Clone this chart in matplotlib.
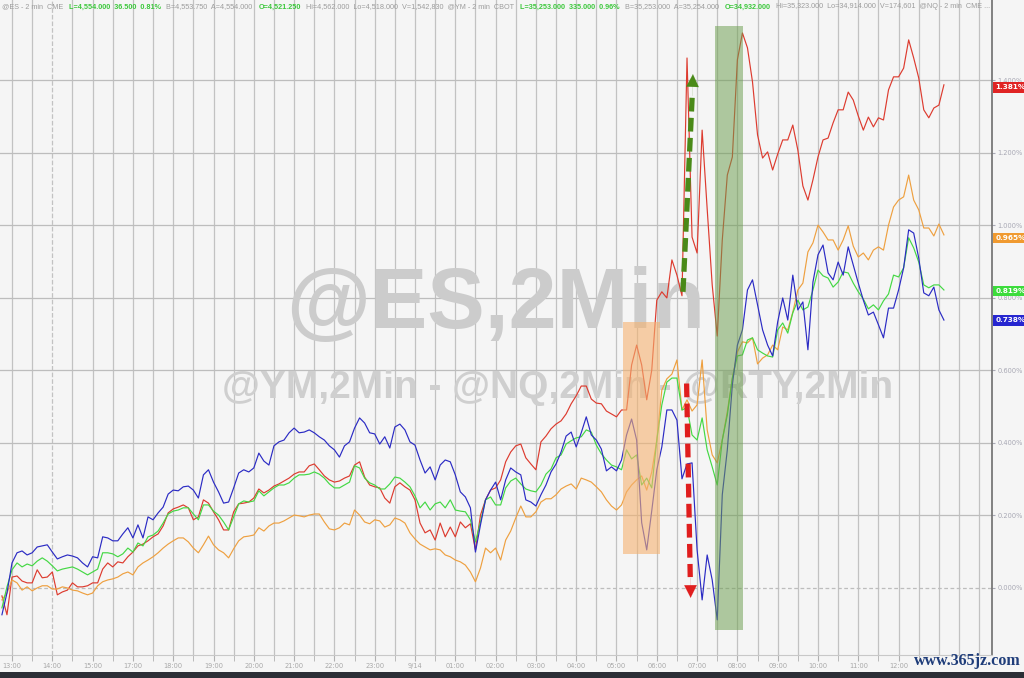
import numpy as np
import matplotlib.pyplot as plt
from matplotlib.patches import Rectangle

# session clock: hours after 13:00, one sample every 7.5 min
t = np.arange(-2, 186) / 8.0

hour_labels = ["13:00", "14:00", "15:00", "17:00", "18:00", "19:00", "20:00", "21:00",
               "22:00", "23:00", "9/14", "01:00", "02:00", "03:00", "04:00", "05:00",
               "06:00", "07:00", "08:00", "09:00", "10:00", "11:00", "12:00"]

rty = [-0.022, -0.074, 0.030, 0.033, 0.019, 0.014, 0.014, 0.050, 0.028, 0.030,
       0.044, -0.019, -0.011, -0.006, 0.014, 0.003, 0.003, 0.006, 0.014, 0.014,
       0.052, 0.069, 0.058, 0.072, 0.069, 0.086, 0.099, 0.116, 0.121, 0.130,
       0.141, 0.149, 0.171, 0.207, 0.218, 0.223, 0.229, 0.221, 0.188, 0.196,
       0.243, 0.234, 0.210, 0.188, 0.160, 0.160, 0.210, 0.232, 0.234, 0.237,
       0.248, 0.273, 0.262, 0.270, 0.281, 0.287, 0.295, 0.303, 0.314, 0.320,
       0.320, 0.337, 0.342, 0.326, 0.309, 0.298, 0.292, 0.295, 0.303, 0.309,
       0.339, 0.348, 0.306, 0.284, 0.279, 0.276, 0.248, 0.234, 0.279, 0.290,
       0.279, 0.270, 0.243, 0.179, 0.152, 0.160, 0.132, 0.179, 0.141, 0.168,
       0.141, 0.182, 0.166, 0.177, 0.105, 0.201, 0.243, 0.270, 0.276, 0.298,
       0.348, 0.375, 0.392, 0.397, 0.359, 0.342, 0.326, 0.403, 0.419, 0.439,
       0.452, 0.461, 0.480, 0.508, 0.530, 0.557, 0.557, 0.521, 0.510, 0.508,
       0.488, 0.480, 0.472, 0.491, 0.491, 0.615, 0.670, 0.615, 0.519, 0.601,
       0.794, 0.817, 0.800, 0.905, 0.863, 0.806, 1.462, 0.968, 0.924, 1.263,
       1.046, 0.836, 0.695, 0.960, 1.139, 1.189, 1.457, 1.531, 1.490, 1.396,
       1.250, 1.186, 1.203, 1.153, 1.197, 1.236, 1.236, 1.277, 1.208, 1.109,
       1.070, 1.126, 1.189, 1.236, 1.241, 1.283, 1.319, 1.319, 1.368, 1.346,
       1.302, 1.263, 1.299, 1.272, 1.297, 1.291, 1.374, 1.410, 1.410, 1.434,
       1.512, 1.462, 1.407, 1.319, 1.297, 1.324, 1.332, 1.388]

nq = [-0.074, -0.014, 0.069, 0.097, 0.102, 0.091, 0.097, 0.113, 0.116, 0.119,
      0.099, 0.080, 0.086, 0.091, 0.088, 0.083, 0.069, 0.058, 0.086, 0.083,
      0.141, 0.138, 0.130, 0.130, 0.149, 0.166, 0.138, 0.174, 0.138, 0.196,
      0.188, 0.207, 0.223, 0.259, 0.270, 0.268, 0.279, 0.281, 0.270, 0.248,
      0.312, 0.326, 0.292, 0.265, 0.234, 0.237, 0.276, 0.317, 0.326, 0.320,
      0.331, 0.372, 0.350, 0.339, 0.392, 0.403, 0.408, 0.428, 0.441, 0.428,
      0.430, 0.436, 0.428, 0.417, 0.408, 0.392, 0.381, 0.361, 0.392, 0.403,
      0.441, 0.469, 0.455, 0.428, 0.425, 0.397, 0.417, 0.386, 0.444, 0.452,
      0.436, 0.403, 0.394, 0.353, 0.317, 0.334, 0.298, 0.339, 0.353, 0.348,
      0.312, 0.265, 0.251, 0.221, 0.099, 0.174, 0.243, 0.270, 0.292, 0.243,
      0.298, 0.331, 0.320, 0.312, 0.243, 0.237, 0.226, 0.257, 0.284, 0.320,
      0.342, 0.375, 0.419, 0.430, 0.389, 0.428, 0.472, 0.422, 0.408, 0.383,
      0.323, 0.334, 0.323, 0.353, 0.422, 0.466, 0.408, 0.180, 0.105, 0.213,
      0.326, 0.389, 0.491, 0.491, 0.463, 0.301, 0.342, 0.345, 0.105, -0.033,
      0.091, 0.022, -0.088, 0.257, 0.381, 0.560, 0.670, 0.712, 0.822, 0.850,
      0.781, 0.712, 0.670, 0.640, 0.734, 0.800, 0.739, 0.863, 0.767, 0.789,
      0.657, 0.844, 0.919, 0.946, 0.869, 0.850, 0.899, 0.863, 0.941, 0.891,
      0.841, 0.794, 0.753, 0.761, 0.726, 0.690, 0.772, 0.772, 0.822, 0.883,
      0.988, 0.979, 0.910, 0.814, 0.806, 0.830, 0.767, 0.739]

es = [-0.055, 0.003, 0.050, 0.069, 0.058, 0.066, 0.061, 0.074, 0.083, 0.074,
      0.061, 0.047, 0.052, 0.055, 0.058, 0.052, 0.044, 0.036, 0.044, 0.052,
      0.097, 0.097, 0.094, 0.086, 0.094, 0.110, 0.099, 0.124, 0.116, 0.141,
      0.146, 0.157, 0.179, 0.204, 0.212, 0.215, 0.221, 0.221, 0.204, 0.188,
      0.229, 0.229, 0.212, 0.201, 0.182, 0.160, 0.196, 0.232, 0.240, 0.237,
      0.240, 0.268, 0.254, 0.265, 0.276, 0.284, 0.284, 0.290, 0.303, 0.312,
      0.312, 0.314, 0.320, 0.314, 0.303, 0.287, 0.276, 0.276, 0.284, 0.292,
      0.337, 0.331, 0.303, 0.290, 0.284, 0.273, 0.273, 0.287, 0.306, 0.303,
      0.292, 0.279, 0.254, 0.221, 0.237, 0.215, 0.232, 0.237, 0.221, 0.243,
      0.215, 0.212, 0.210, 0.188, 0.127, 0.182, 0.243, 0.251, 0.229, 0.229,
      0.276, 0.295, 0.303, 0.287, 0.273, 0.268, 0.265, 0.284, 0.314, 0.328,
      0.359, 0.367, 0.397, 0.406, 0.414, 0.417, 0.436, 0.430, 0.394, 0.370,
      0.353, 0.339, 0.334, 0.326, 0.381, 0.356, 0.367, 0.284, 0.303, 0.276,
      0.408, 0.505, 0.568, 0.579, 0.579, 0.491, 0.497, 0.422, 0.408, 0.469,
      0.381, 0.334, 0.284, 0.408, 0.477, 0.579, 0.640, 0.643, 0.684, 0.690,
      0.657, 0.648, 0.640, 0.637, 0.712, 0.731, 0.703, 0.759, 0.794, 0.767,
      0.775, 0.822, 0.877, 0.861, 0.855, 0.830, 0.844, 0.872, 0.869, 0.841,
      0.817, 0.797, 0.770, 0.781, 0.767, 0.792, 0.811, 0.863, 0.858, 0.883,
      0.966, 0.938, 0.899, 0.836, 0.828, 0.836, 0.836, 0.822]

ym = [-0.033, -0.014, 0.022, 0.014, -0.006, 0.003, -0.008, 0.000, 0.006, 0.006,
      -0.003, -0.003, 0.003, 0.000, -0.006, -0.008, -0.014, -0.019, -0.014, 0.006,
      0.017, 0.022, 0.025, 0.030, 0.039, 0.044, 0.036, 0.058, 0.069, 0.077,
      0.086, 0.097, 0.110, 0.121, 0.130, 0.138, 0.138, 0.127, 0.110, 0.097,
      0.119, 0.143, 0.119, 0.105, 0.097, 0.083, 0.108, 0.130, 0.141, 0.143,
      0.146, 0.166, 0.157, 0.171, 0.179, 0.179, 0.185, 0.193, 0.201, 0.199,
      0.196, 0.201, 0.204, 0.204, 0.182, 0.163, 0.160, 0.166, 0.179, 0.174,
      0.215, 0.201, 0.182, 0.177, 0.188, 0.185, 0.168, 0.174, 0.193, 0.188,
      0.179, 0.152, 0.135, 0.121, 0.113, 0.105, 0.108, 0.105, 0.091, 0.086,
      0.077, 0.072, 0.063, 0.044, 0.017, 0.055, 0.110, 0.097, 0.110, 0.077,
      0.132, 0.157, 0.193, 0.226, 0.196, 0.196, 0.210, 0.237, 0.246, 0.246,
      0.257, 0.273, 0.281, 0.287, 0.273, 0.303, 0.298, 0.292, 0.279, 0.265,
      0.243, 0.226, 0.215, 0.229, 0.265, 0.284, 0.298, 0.309, 0.270, 0.320,
      0.408, 0.546, 0.577, 0.590, 0.629, 0.491, 0.519, 0.488, 0.505, 0.629,
      0.436, 0.367, 0.345, 0.408, 0.486, 0.579, 0.651, 0.679, 0.676, 0.690,
      0.618, 0.634, 0.643, 0.670, 0.657, 0.720, 0.712, 0.761, 0.822, 0.841,
      0.927, 0.952, 1.001, 0.982, 0.960, 0.960, 0.932, 0.960, 0.999, 0.943,
      0.913, 0.924, 0.905, 0.932, 0.941, 0.932, 1.001, 1.051, 1.070, 1.079,
      1.139, 1.070, 1.043, 0.993, 0.993, 0.971, 1.004, 0.974]

last_vals = [1.381, 0.965, 0.819, 0.738]
line_cols = ["#dd3b2f", "#eea040", "#44d844", "#2b2bc4"]
box_cols = ["#e02424", "#f09a30", "#3cdc3c", "#2626d0"]

fig = plt.figure(figsize=(10.24, 6.78), dpi=100, facecolor="#f5f5f5")
ax = fig.add_axes([0, 23 / 678, 992 / 1024, 655 / 678])
ax.set_facecolor("#f5f5f5")
ax.set_xlim(-0.298, 24.318)
ax.set_ylim(-0.185, 1.622)

# grid
for h in np.arange(0, 24.5, 0.5):
    ax.axvline(h, color="#c2c2c2", lw=0.9, ls="--" if h == 1 else "-", zorder=0)
yt = np.arange(0, 1.41, 0.2)
for v in yt:
    ax.axhline(v, color="#bdbdbd", lw=0.9, ls=(0, (3, 2)) if v == 0 else "-", zorder=0)

# watermarks
ax.text(496 / 992, 1 - 306 / 655, "@ES,2Min", transform=ax.transAxes, ha="center", va="center",
        fontsize=62, fontweight="bold", family="Liberation Sans", color="#cccccc", zorder=0.5)
ax.text(558 / 992, 1 - 388 / 655, "@YM,2Min - @NQ,2Min - @RTY,2Min", transform=ax.transAxes,
        ha="center", va="center", fontsize=28, fontweight="bold", family="Liberation Sans",
        color="#cfcfcf", zorder=0.5)

for ys, c in zip([rty, ym, es, nq], line_cols):
    ax.plot(t, ys, color=c, lw=0.85, zorder=2)

# highlighted windows
ax.add_patch(Rectangle((15.15, 0.094), 0.94, 0.64, fc="#f5b270", ec="none", alpha=0.6, zorder=3))
ax.add_patch(Rectangle((17.44, -0.115), 0.69, 1.666, fc="#6c9e4e", ec="none", alpha=0.52, zorder=3))

# arrows
ax.plot([16.65, 16.88], [0.817, 1.36], color="#4a8a18", lw=3.8, ls=(0, (2.6, 1.2)), zorder=4,
        dash_capstyle="butt")
ax.annotate("", xy=(16.90, 1.425), xytext=(16.875, 1.35),
            arrowprops=dict(arrowstyle="-|>,head_length=0.9,head_width=0.45", color="#4a8a18", lw=0.1),
            zorder=4)
ax.plot([16.74, 16.83], [0.564, 0.03], color="#e01e1e", lw=3.8, ls=(0, (2.6, 1.2)), zorder=4,
        dash_capstyle="butt")
ax.annotate("", xy=(16.84, -0.035), xytext=(16.835, 0.035),
            arrowprops=dict(arrowstyle="-|>,head_length=0.9,head_width=0.45", color="#e01e1e", lw=0.1),
            zorder=4)

# axes styling
for s in ["left", "top"]:
    ax.spines[s].set_visible(False)
ax.spines["right"].set_color("#6e6e6e")
ax.spines["right"].set_linewidth(1.2)
ax.spines["bottom"].set_color("#c8c8c8")
ax.set_xticks(range(len(hour_labels)))
ax.set_xticklabels(hour_labels)
ax.set_xticks(np.arange(0.5, 24.5, 1), minor=True)
ax.tick_params(axis="x", which="both", colors="#b0b0b0", labelsize=4.8, length=4, pad=2)
ax.tick_params(axis="x", labelcolor="#a8a8a8")
ax.yaxis.tick_right()
ax.set_yticks(yt)
ax.set_yticklabels([f"{v:.3f}%" for v in yt])
ax.tick_params(axis="y", colors="#a8a8b4", labelsize=4.8, length=2, pad=2)

for val, c in zip(last_vals, box_cols):
    ax.annotate(f"{val:.3f}%", xy=(1, val), xycoords=("axes fraction", "data"), xytext=(2.3, 0),
                textcoords="offset points", ha="left", va="center", fontsize=5.2, color="white",
                fontweight="bold", annotation_clip=False,
                bbox=dict(boxstyle="square,pad=0.3", fc=c, ec="none"))

# header strip
grey, green = "#9c9c9c", "#3cc83c"
hdr = [("@ES - 2 min  CME", grey), ("L=4,554.000  36.500  0.81%", green),
       ("B=4,553.750  A=4,554.000", grey), ("O=4,521.250", green),
       ("Hi=4,562.000  Lo=4,518.000  V=1,542,830  @YM - 2 min  CBOT", grey),
       ("L=35,253.000  335.000  0.96%", green), ("B=35,253.000  A=35,254.000", grey),
       ("O=34,932.000", green),
       ("Hi=35,323.000  Lo=34,914.000  V=174,601  @NQ - 2 min  CME ...", grey)]
prev = fig.text(2 / 1024, 1 - 7 / 678, hdr[0][0], color=hdr[0][1], fontsize=5.2,
                family="Liberation Sans", va="center")
for s, c in hdr[1:]:
    prev = ax.annotate(s, xy=(1, 0), xycoords=prev, xytext=(4, 0), textcoords="offset points",
                       va="bottom", color=c, fontsize=5.2, family="Liberation Sans",
                       fontweight="bold" if c == green else "normal", annotation_clip=False)

fig.patches.append(Rectangle((0, 0), 1, 6 / 678, transform=fig.transFigure, fc="#2b2e35", ec="none"))
fig.text(967 / 1024, 1 - 661 / 678, "www.365jz.com", ha="center", va="center", fontsize=11.5,
         fontweight="bold", family="Liberation Serif", color="#1f3d7a")

fig.savefig("out.png", dpi=100, facecolor=fig.get_facecolor())
